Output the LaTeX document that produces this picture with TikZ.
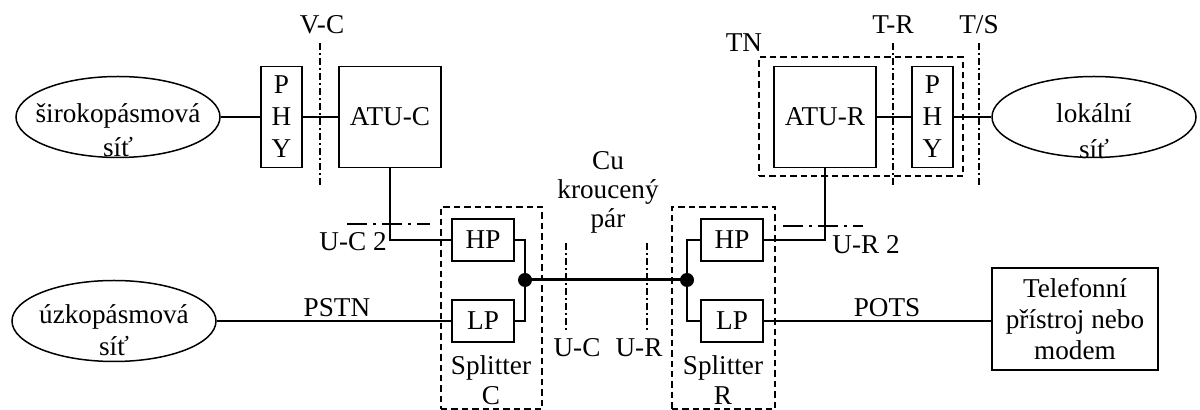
\documentclass[tikz,border=0pt]{standalone}
\usepackage{fontspec}
\setmainfont{Liberation Serif}
\usetikzlibrary{shapes.geometric}

\begin{document}
\begin{tikzpicture}[x=0.5pt, y=-0.5pt,
  every node/.style={font=\fontsize{13.6pt}{15.5pt}\selectfont},
  blok/.style={draw, line width=0.75pt, inner sep=0pt, align=center},
  sit/.style={draw, ellipse, line width=0.75pt, inner sep=0pt, minimum width=102pt, minimum height=40.5pt},
  spoj/.style={line width=0.85pt},
  skupina/.style={draw, line width=1pt, dash pattern=on 3.2pt off 2pt, inner sep=0pt},
  rozhrani/.style={line width=0.8pt, dash pattern=on 3.5pt off 1.5pt on 1pt off 1.5pt},
  rozhrani2/.style={line width=1.3pt, dash pattern=on 10pt off 3pt on 1.5pt off 3pt},
  uzel/.style={circle, fill, inner sep=0pt, minimum size=7pt}]
 \useasboundingbox (0,0) rectangle (1200,410);
 % skupiny (carkovane ramecky)
 \node[skupina, minimum width=50.5pt, minimum height=101pt] (splitC) at (491.5,308) {};
 \node[skupina, minimum width=51.5pt, minimum height=101pt] (splitR) at (723.5,308) {};
 \node[skupina, minimum width=102pt, minimum height=59.5pt] (tn) at (861,116.5) {};
 % site
 \node[sit] (wan) at (118,117) {};
 \node[align=center, font=\fontsize{13.6pt}{17pt}\selectfont] (wanT) at (118,130) {širokopásmová\\síť};
 \node[sit] (lan) at (1094,117) {};
 \node[align=center, font=\fontsize{13.6pt}{18pt}\selectfont] (lanT) at (1094,131) {lokální\\síť};
 \node[sit] (pstn) at (114,321) {};
 \node[align=center, font=\fontsize{13.6pt}{16pt}\selectfont] (pstnT) at (114,330) {úzkopásmová\\síť};
 % bloky
 \node[blok, minimum width=20.5pt, minimum height=50.5pt, font=\fontsize{13.6pt}{16pt}\selectfont] (phyC) at (281.5,117) {P\\H\\Y};
 \node[blok, minimum width=51pt, minimum height=50.5pt] (atuC) at (390,117) {ATU-C};
 \node[blok, minimum width=51pt, minimum height=50.5pt] (atuR) at (825,117) {ATU-R};
 \node[blok, minimum width=20.5pt, minimum height=50.5pt, font=\fontsize{13.6pt}{16pt}\selectfont] (phyR) at (932.5,117) {P\\H\\Y};
 \node[blok, minimum width=31pt, minimum height=21pt] (hpC) at (483,240) {HP};
 \node[blok, minimum width=31pt, minimum height=21pt] (lpC) at (483,321) {LP};
 \node[blok, minimum width=31pt, minimum height=21pt] (hpR) at (732,240) {HP};
 \node[blok, minimum width=31pt, minimum height=21pt] (lpR) at (732,321) {LP};
 \node[blok, minimum width=83pt, minimum height=51pt] (telefon) at (1075,319) {Telefonní\\přístroj nebo\\modem};
 \node[uzel] (uzelC) at (525,280) {};
 \node[uzel] (uzelR) at (687,280) {};
 % spoje
 \draw[spoj] (wan) -- (phyC);
 \draw[spoj] (phyC) -- (atuC);
 \draw[spoj] (atuC.south) |- (hpC.west);
 \draw[spoj] (hpC.east) -| (uzelC.center);
 \draw[spoj] (lpC.east) -| (uzelC.center);
 \draw[line width=1.5pt] (uzelC.center) -- (uzelR.center);
 \draw[spoj] (uzelR.center) |- (hpR.west);
 \draw[spoj] (uzelR.center) |- (lpR.west);
 \draw[spoj] (hpR.east) -| (atuR.south);
 \draw[spoj] (atuR) -- (phyR);
 \draw[spoj] (phyR) -- (lan);
 \draw[spoj] (pstn) -- (lpC);
 \draw[spoj] (lpR.east) -- (lpR.east -| telefon.west);
 % rozhrani
 \draw[rozhrani] (320,43) -- (320,187);
 \draw[rozhrani] (893,43) -- (893,187);
 \draw[rozhrani] (979,43) -- (979,187);
 \draw[rozhrani] (566,243) -- (566,332);
 \draw[rozhrani] (647,243) -- (647,332);
 \draw[rozhrani2] (347,224) -- (430,224);
 \draw[rozhrani2] (783,226) -- (863,226);
 % popisky
 \node (lVC) at (322,25) {V-C};
 \node (lTN) at (744,43) {TN};
 \node (lTR) at (893,25) {T-R};
 \node (lTS) at (979,25) {T/S};
 \node[align=center, font=\fontsize{13.6pt}{14.5pt}\selectfont] (lCu) at (608,192) {Cu\\kroucený\\pár};
 \node (lUC2) at (353,242) {U-C 2};
 \node (lUR2) at (866,245) {U-R 2};
 \node (lUC) at (577,348) {U-C};
 \node (lUR) at (639,348) {U-R};
 \node[align=center, font=\fontsize{13.6pt}{15pt}\selectfont] (lSC) at (491,380) {Splitter\\C};
 \node[align=center, font=\fontsize{13.6pt}{15pt}\selectfont] (lSR) at (723,380) {Splitter\\R};
 \node (lPSTN) at (337,308) {PSTN};
 \node (lPOTS) at (887,308) {POTS};
\end{tikzpicture}
\end{document}
